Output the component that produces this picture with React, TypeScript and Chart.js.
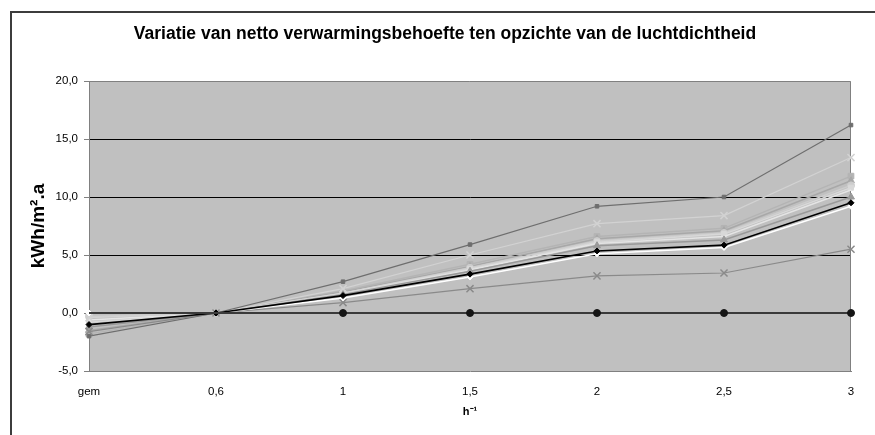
import React, { useEffect, useRef } from 'react';
import { Chart, registerables } from 'chart.js';

Chart.register(...registerables);

const categories = ['gem', '0,6', '1', '1,5', '2', '2,5', '3'];

const zeroRef = [0, 0, 0, 0, 0, 0, 0];
const blackSeries = [-1.0, 0, 1.5, 3.35, 5.35, 5.85, 9.5];
const whiteSeries = [0.0, 0, 1.3, 3.1, 5.1, 5.65, 9.2];
const lowSeries = [-1.6, 0, 0.9, 2.1, 3.2, 3.45, 5.5];
const highSeries = [-2.0, 0, 2.7, 5.9, 9.2, 10.0, 16.2];
const lightCrossSeries = [-0.4, 0, 2.1, 5.0, 7.7, 8.4, 13.4];
const bundleG = [-1.8, 0, 1.9, 4.2, 6.6, 7.3, 11.8];
const bundleH = [-1.5, 0, 1.8, 4.0, 6.4, 7.1, 11.4];
const bundleI = [-0.3, 0, 1.7, 3.9, 6.2, 6.9, 11.0];
const bundleJ = [-0.6, 0, 1.6, 3.7, 6.0, 6.6, 10.6];
const bundleK = [-1.2, 0, 1.6, 3.6, 5.8, 6.3, 10.0];
const bundleL = [-0.8, 0, 1.7, 3.8, 6.1, 6.8, 10.8];

const yMin = -5;
const yMax = 20;
const yStep = 5;
const blackGridValues = [0, 5, 10, 15];

const titleText = 'Variatie van netto verwarmingsbehoefte ten opzichte van de luchtdichtheid';
const yTitle = 'kWh/m².a';
const xTitle = 'h⁻¹';

const plotBackground = {
  id: 'plotBackground',
  beforeDraw(chart: any) {
    const { ctx, chartArea } = chart;
    if (!chartArea) return;
    const { left, top, width, height } = chartArea;
    ctx.save();
    ctx.fillStyle = '#c0c0c0';
    ctx.fillRect(left, top, width, height);
    ctx.restore();
  },
  beforeDatasetsDraw(chart: any) {
    const { ctx, chartArea } = chart;
    const { left, top, right, bottom } = chartArea;
    ctx.save();
    ctx.strokeStyle = '#808080';
    ctx.lineWidth = 1;
    ctx.beginPath();
    ctx.moveTo(left, top + 0.5);
    ctx.lineTo(right - 0.5, top + 0.5);
    ctx.lineTo(right - 0.5, bottom);
    ctx.stroke();
    ctx.restore();
  },
};

function line(data: number[], color: string, opts: any = {}) {
  return {
    data,
    borderColor: color,
    backgroundColor: color,
    borderWidth: 1.5,
    pointBackgroundColor: color,
    pointBorderColor: color,
    pointRadius: 3.5,
    pointBorderWidth: 1,
    tension: 0,
    fill: false,
    ...opts,
  };
}

export default function App() {
  const canvasRef = useRef<HTMLCanvasElement | null>(null);

  useEffect(() => {
    if (!canvasRef.current) return;
    Chart.defaults.font.family = "'Liberation Sans', Arial, sans-serif";
    const chart = new Chart(canvasRef.current, {
      type: 'line',
      data: {
        labels: categories,
        datasets: [
          line(zeroRef, '#3a3a3a', {
            pointBackgroundColor: '#151515',
            pointBorderColor: '#151515',
            pointRadius: [0, 0, 3.5, 3.5, 3.5, 3.5, 3.5],
            borderWidth: 2,
          }),
          line(blackSeries, '#000000', { pointStyle: 'rectRot', pointRadius: 3, borderWidth: 1.6 }),
          line(whiteSeries, '#ffffff', { pointStyle: 'rectRot', pointRadius: 3, borderWidth: 1.5 }),
          line(lowSeries, '#8a8a8a', { pointStyle: 'crossRot', pointRadius: 5, pointBorderWidth: 1.5, borderWidth: 1.2 }),
          line(highSeries, '#6e6e6e', { pointStyle: 'rect', pointRadius: 2.5, borderWidth: 1.2 }),
          line(lightCrossSeries, '#d2d2d2', { pointStyle: 'crossRot', pointRadius: 5, pointBorderWidth: 1.5, borderWidth: 1.2 }),
          line(bundleK, '#999999', { pointStyle: 'triangle', pointRadius: 4 }),
          line(bundleJ, '#e4e4e4', { pointRadius: 0 }),
          line(bundleL, '#d8d8d8', { pointStyle: 'rect', pointRadius: 3.5 }),
          line(bundleI, '#cdcdcd', { pointStyle: 'circle', pointRadius: 3.5 }),
          line(bundleH, '#a8a8a8', { pointStyle: 'triangle', pointRadius: 4 }),
          line(bundleG, '#b4b4b4', { pointStyle: 'rect', pointRadius: 4 }),
        ],
      },
      options: {
        responsive: false,
        animation: false,
        layout: { padding: { left: 39, right: 24, top: 0, bottom: 0 } },
        plugins: {
          legend: { display: false },
          tooltip: { enabled: false },
          title: {
            display: true,
            text: titleText,
            color: '#000',
            font: { size: 17.5, weight: 'bold' },
            padding: { top: 24, bottom: 36 },
          },
        },
        scales: {
          x: {
            type: 'category',
            offset: false,
            grid: { display: false, drawTicks: false },
            border: { display: true, color: '#808080', width: 1 },
            ticks: {
              color: '#000',
              font: { size: 11.5 },
              padding: 14,
              maxRotation: 0,
              autoSkip: false,
            },
            title: {
              display: true,
              text: xTitle,
              color: '#000',
              font: { size: 11, weight: 'bold' },
              padding: { top: 0, bottom: 16 },
            },
            afterFit: (s: any) => {
              s.height = 64;
            },
          },
          y: {
            min: yMin,
            max: yMax,
            ticks: {
              stepSize: yStep,
              color: '#000',
              font: { size: 11.5 },
              padding: 6,
              callback: (v: any) => Number(v).toFixed(1).replace('.', ','),
            },
            grid: {
              color: (c: any) => (c.tick && blackGridValues.includes(c.tick.value) ? '#000000' : 'rgba(0,0,0,0)'),
              tickColor: '#808080',
              tickLength: 5,
              drawTicks: true,
              lineWidth: 1,
            },
            border: { display: true, color: '#808080', width: 1 },
            title: {
              display: true,
              text: yTitle,
              color: '#000',
              font: { size: 19, weight: 'bold' },
              padding: { top: -12, bottom: 0 },
            },
            afterFit: (s: any) => {
              s.width = 50;
            },
          },
        },
      },
      plugins: [plotBackground],
    } as any);
    return () => chart.destroy();
  }, []);

  return (
    <div style={{ position: 'absolute', left: 0, top: 0, width: 875, height: 435, overflow: 'hidden', background: '#fff' }}>
      <div
        style={{
          position: 'absolute',
          left: 10,
          top: 11,
          width: 900,
          height: 460,
          borderTop: '2px solid #3c3c3c',
          borderLeft: '2px solid #3c3c3c',
          boxSizing: 'border-box',
        }}
      />
      <canvas ref={canvasRef} width={875} height={435} style={{ position: 'absolute', left: 0, top: 0 }} />
    </div>
  );
}
